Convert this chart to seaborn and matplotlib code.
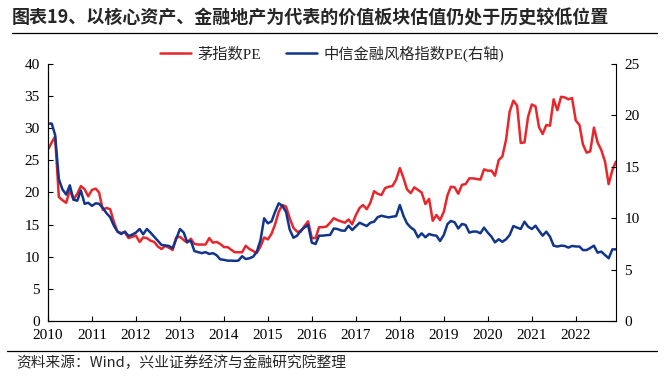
import pandas as pd
import matplotlib
matplotlib.use("Agg")
import matplotlib.pyplot as plt
import matplotlib.dates as mdates
import seaborn as sns

# 月度数据 2010-01 ~ 2022-12
months = pd.date_range("2010-01-01", periods=156, freq="MS")

mao_pe = [
    26.7, 27.8, 28.7, 19.3, 18.8, 18.4, 20.4, 18.9, 19.8, 21.0, 20.5, 19.4,
    20.4, 20.6, 20.0, 17.3, 17.6, 17.4, 15.5, 13.9, 13.7, 13.8, 12.9, 13.1,
    13.3, 12.3, 13.0, 12.9, 12.5, 12.3, 11.6, 11.2, 11.7, 11.4, 11.05, 13.0,
    13.1, 12.6, 12.2, 12.8, 12.0, 11.9, 11.9, 11.9, 12.9, 12.2, 12.3, 12.0,
    11.5, 11.5, 11.1, 10.7, 10.7, 10.7, 11.7, 11.2, 10.9, 10.6, 11.6, 13.0,
    12.7, 13.6, 15.0, 17.0, 18.05, 17.8, 16.0, 14.5, 13.9, 13.9, 14.8, 15.5,
    12.9, 12.9, 14.6, 14.6, 14.7, 15.3, 16.0, 15.7, 15.5, 15.3, 15.8, 15.05,
    16.5, 17.6, 18.05, 17.4, 18.4, 20.2, 19.8, 19.6, 20.7, 20.9, 21.0, 22.0,
    23.8, 22.2, 20.5, 19.9, 20.8, 20.4, 20.0, 18.2, 19.0, 15.6, 16.5, 15.7,
    17.0, 19.6, 20.9, 20.8, 19.8, 21.2, 21.3, 22.2, 22.2, 22.1, 22.0, 23.6,
    23.4, 23.4, 22.6, 25.05, 25.6, 28.2, 32.6, 34.3, 33.5, 27.7, 27.8, 31.8,
    33.7, 33.4, 30.2, 29.1, 30.5, 30.4, 34.5, 32.8, 34.9, 34.8, 34.5, 34.7,
    31.2, 30.5, 27.5, 26.2, 26.4, 30.1, 27.8, 26.6, 24.8, 21.3, 23.5, 24.8,
]

fin_pe = [
    19.2, 19.2, 18.1, 13.8, 12.8, 12.3, 13.2, 11.8, 11.7, 12.7, 11.4, 11.5,
    11.2, 11.45, 11.4, 11.0, 10.5, 10.1, 9.3, 8.7, 8.46, 8.7, 8.27, 8.4,
    8.6, 8.95, 8.43, 8.95, 8.6, 8.2, 7.8, 7.4, 7.35, 7.3, 7.07, 8.0,
    8.95, 8.6, 7.7, 7.8, 6.8, 6.7, 6.6, 6.7, 6.52, 6.6, 6.4, 6.0,
    5.95, 5.87, 5.87, 5.85, 5.87, 6.3, 6.03, 6.1, 6.26, 6.74, 7.88, 9.99,
    9.5, 9.7, 10.6, 11.45, 11.2, 10.6, 8.9, 8.1, 8.3, 8.8, 9.1, 9.34,
    7.62, 7.49, 8.3, 8.3, 8.35, 8.37, 9.0, 8.95, 8.8, 8.78, 9.27, 8.85,
    9.2, 9.56, 9.4, 9.24, 9.56, 9.66, 10.1, 10.24, 10.15, 10.08, 10.15, 10.2,
    11.28, 10.2, 9.5, 9.1, 8.85, 8.14, 8.53, 8.14, 8.46, 8.35, 8.3, 7.78,
    8.37, 9.44, 9.73, 9.6, 9.0, 9.44, 9.34, 8.6, 8.7, 8.7, 8.53, 9.08,
    8.6, 8.2, 7.65, 7.95, 7.7, 7.95, 8.37, 9.24, 9.08, 8.95, 9.66, 9.18,
    8.95, 9.27, 8.78, 8.3, 8.69, 8.2, 7.33, 7.24, 7.33, 7.3, 7.14, 7.3,
    7.25, 7.24, 6.9, 6.9, 7.1, 7.33, 6.65, 6.75, 6.42, 6.1, 6.97, 6.97,
]

left_ticks = [0, 5, 10, 15, 20, 25, 30, 35, 40]
right_ticks = [0, 5, 10, 15, 20, 25]

label_mao = "茅指数PE"
label_fin = "中信金融风格指数PE(右轴)"
title = "图表19、以核心资产、金融地产为代表的价值板块估值仍处于历史较低位置"
source = "资料来源：Wind，兴业证券经济与金融研究院整理"

df = pd.DataFrame({"date": months, "mao": mao_pe, "fin": fin_pe})

sns.set_style("ticks")
plt.rcParams["font.family"] = ["Liberation Serif", "Noto Sans CJK SC"]
plt.rcParams["axes.linewidth"] = 0.8

red = "#E8262B"
blue = "#12358C"

fig = plt.figure(figsize=(6.64, 3.78), dpi=100)
ax = fig.add_axes([0.0723, 0.1508, 0.8554, 0.6799])
ax2 = ax.twinx()

sns.lineplot(data=df, x="date", y="mao", ax=ax, color=red, linewidth=1.8, label=label_mao, legend=False)
sns.lineplot(data=df, x="date", y="fin", ax=ax2, color=blue, linewidth=1.8, label=label_fin, legend=False)

ax.set_xlim(months[0], months[-1])
ax.set_ylim(0, 40)
ax2.set_ylim(0, 25)
ax.set_yticks(left_ticks)
ax2.set_yticks(right_ticks)
ax.xaxis.set_major_locator(mdates.YearLocator())
ax.xaxis.set_major_formatter(mdates.DateFormatter("%Y"))
ax.set_xlabel("")
ax.set_ylabel("")
ax2.set_ylabel("")

for a in (ax, ax2):
    a.tick_params(direction="in", length=3.5, width=0.8, labelsize=11, colors="black")
    a.spines["top"].set_visible(False)
    for s in ("left", "right", "bottom"):
        a.spines[s].set_color("black")
ax.tick_params(axis="x", pad=6)
ax.tick_params(axis="y", pad=6)
ax2.tick_params(axis="y", pad=6)
ax.spines["right"].set_visible(False)

h1, l1 = ax.get_legend_handles_labels()
h2, l2 = ax2.get_legend_handles_labels()
ax.legend(h1 + h2, l1 + l2, loc="lower center", bbox_to_anchor=(0.5, 0.985), ncol=2,
          frameon=False, fontsize=11, handlelength=2.0, columnspacing=1.7,
          handletextpad=0.4, borderaxespad=0)

fig.text(0.018, 0.952, title, fontsize=13, fontweight="bold", va="center", ha="left",
         family=["Noto Sans CJK SC", "DejaVu Sans"])
fig.add_artist(plt.Line2D([0.018, 0.99], [0.912, 0.912], color="black", linewidth=0.9))
fig.add_artist(plt.Line2D([0.01, 0.99], [0.071, 0.071], color="black", linewidth=0.9))
fig.text(0.024, 0.04, source, fontsize=10.6, va="center", ha="left",
         family=["Noto Sans CJK SC", "DejaVu Sans"])

fig.savefig("out.png", dpi=100)
